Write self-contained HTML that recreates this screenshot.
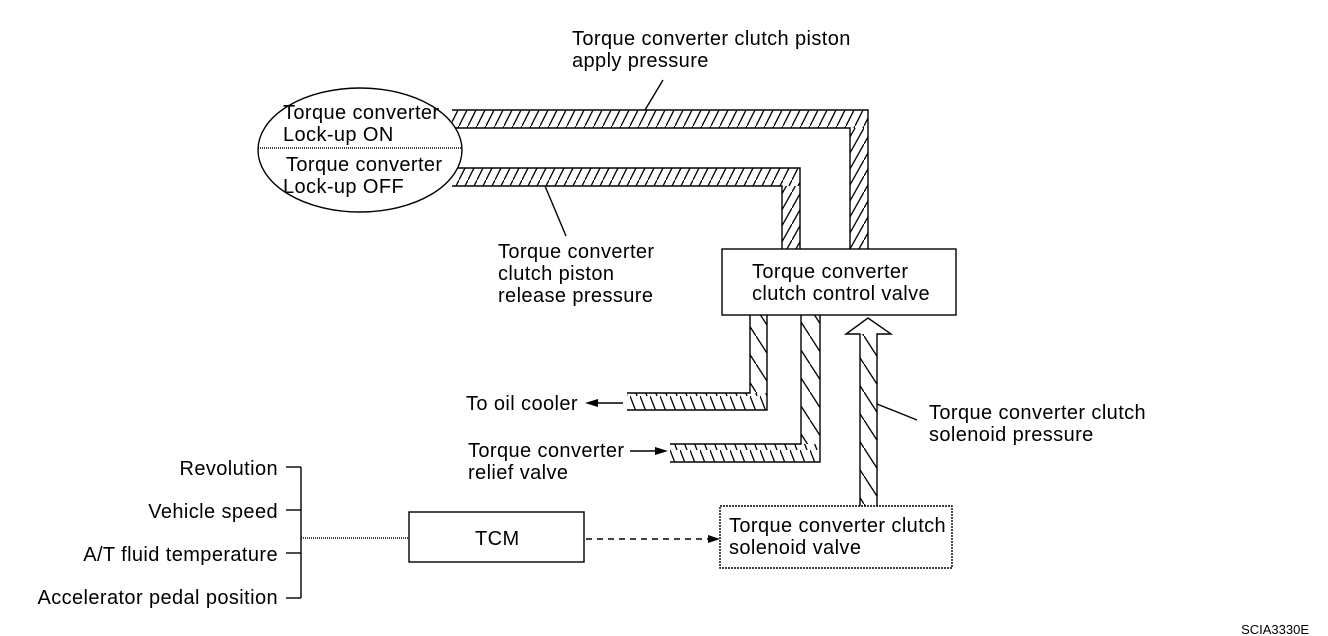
<!DOCTYPE html>
<html><head><meta charset="utf-8"><style>
html,body{margin:0;padding:0;background:#fff;}
svg{display:block;}
text{font-family:"Liberation Sans",Arial,sans-serif;font-size:20px;letter-spacing:0.4px;fill:#000;}
</style></head><body>
<svg width="1328" height="636" viewBox="0 0 1328 636" xmlns="http://www.w3.org/2000/svg">
<defs>
<pattern id="hf" patternUnits="userSpaceOnUse" width="9" height="18"><line x1="0" y1="18" x2="9" y2="0" stroke="#000" stroke-width="1.3"/></pattern>
<pattern id="hfv" patternUnits="userSpaceOnUse" width="18" height="16"><line x1="0" y1="16" x2="18" y2="-16" stroke="#000" stroke-width="1.3"/><line x1="0" y1="32" x2="18" y2="0" stroke="#000" stroke-width="1.3"/></pattern>
<pattern id="hb" patternUnits="userSpaceOnUse" width="10" height="18"><line x1="0" y1="0" x2="7" y2="18" stroke="#000" stroke-width="1.3"/><line x1="-10" y1="0" x2="-3" y2="18" stroke="#000" stroke-width="1.3"/></pattern>
<pattern id="hbv" patternUnits="userSpaceOnUse" width="18" height="28"><line x1="0" y1="0" x2="18" y2="28" stroke="#000" stroke-width="1.3"/></pattern>
</defs>
<g fill="none" stroke="#000" stroke-width="1.4">
<rect x="452" y="110" width="416" height="18" fill="url(#hf)" stroke="none"/>
<rect x="850" y="128" width="18" height="121" fill="url(#hfv)" stroke="none"/>
<polyline points="452,110 868,110 868,249"/>
<polyline points="452,128 850,128 850,249"/>
<rect x="452" y="168" width="348" height="18" fill="url(#hf)" stroke="none"/>
<rect x="782" y="186" width="18" height="63" fill="url(#hfv)" stroke="none"/>
<polyline points="452,168 800,168 800,249"/>
<polyline points="452,186 782,186 782,249"/>
<ellipse cx="360" cy="150" rx="102" ry="62" fill="#fff"/>
<line x1="258" y1="148" x2="462" y2="148" stroke-dasharray="1 1"/>
<rect x="722" y="249" width="234" height="66" fill="#fff"/>
<rect x="750" y="315" width="17" height="78" fill="url(#hbv)" stroke="none"/>
<rect x="627" y="393" width="140" height="17" fill="url(#hb)" stroke="none"/>
<polyline points="767,315 767,410 627,410"/>
<polyline points="750,315 750,393 627,393"/>
<rect x="801" y="315" width="19" height="129" fill="url(#hbv)" stroke="none"/>
<rect x="670" y="444" width="150" height="18" fill="url(#hb)" stroke="none"/>
<polyline points="820,315 820,462 670,462"/>
<polyline points="801,315 801,444 670,444"/>
<rect x="860" y="334" width="17" height="172" fill="url(#hbv)" stroke="none"/>
<polyline points="860,506 860,334 846,334 868,318 891,334 877,334 877,506"/>
<rect x="720" y="506" width="232" height="62" fill="#fff" stroke-dasharray="2 1"/>
<rect x="409" y="512" width="175" height="50"/>
<line x1="586" y1="539" x2="708" y2="539" stroke-dasharray="6 5"/>
<line x1="301" y1="467" x2="301" y2="598"/>
<line x1="286" y1="467" x2="301" y2="467"/>
<line x1="286" y1="510" x2="301" y2="510"/>
<line x1="286" y1="553" x2="301" y2="553"/>
<line x1="286" y1="598" x2="301" y2="598"/>
<line x1="301" y1="538" x2="409" y2="538" stroke-dasharray="1 1"/>
<line x1="645" y1="110" x2="663" y2="80"/>
<line x1="545" y1="186" x2="566" y2="236"/>
<line x1="877" y1="404" x2="917" y2="420"/>
<line x1="598" y1="403" x2="623" y2="403"/>
<line x1="630" y1="451" x2="656" y2="451"/>
</g>
<polygon points="720,539 708,535 708,543" fill="#000"/>
<polygon points="585,403 598,399 598,407" fill="#000"/>
<polygon points="668,451 655,447 655,455" fill="#000"/>
<text x="572" y="45">Torque converter clutch piston</text>
<text x="572" y="67">apply pressure</text>
<text x="283" y="119">Torque converter</text>
<text x="283" y="141">Lock-up ON</text>
<text x="286" y="171">Torque converter</text>
<text x="283" y="193">Lock-up OFF</text>
<text x="498" y="258">Torque converter</text>
<text x="498" y="280">clutch piston</text>
<text x="498" y="302">release pressure</text>
<text x="752" y="278">Torque converter</text>
<text x="752" y="300">clutch control valve</text>
<text x="466" y="410">To oil cooler</text>
<text x="468" y="457">Torque converter</text>
<text x="468" y="479">relief valve</text>
<text x="929" y="419">Torque converter clutch</text>
<text x="929" y="441">solenoid pressure</text>
<text x="729" y="532">Torque converter clutch</text>
<text x="729" y="554">solenoid valve</text>
<text x="475" y="545">TCM</text>
<text x="278" y="475" text-anchor="end">Revolution</text>
<text x="278" y="518" text-anchor="end">Vehicle speed</text>
<text x="278" y="561" text-anchor="end">A/T fluid temperature</text>
<text x="278" y="604" text-anchor="end">Accelerator pedal position</text>
<text x="1309" y="634" text-anchor="end" style="font-size:13px;letter-spacing:0">SCIA3330E</text>
</svg>
</body></html>
